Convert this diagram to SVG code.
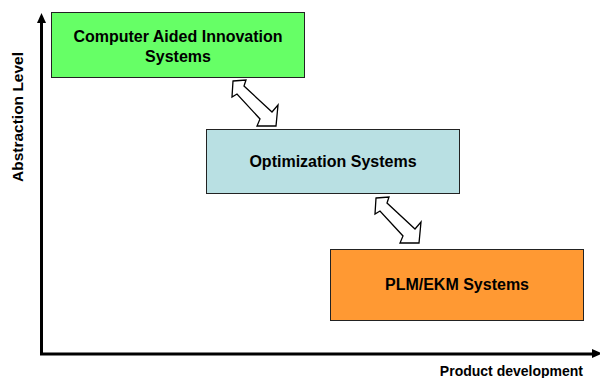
<svg xmlns="http://www.w3.org/2000/svg" width="600" height="378" viewBox="0 0 600 378">
<style>
.box{stroke:#222;stroke-width:1}
.lbl{font-family:"Liberation Sans",Arial,sans-serif;font-weight:bold;font-size:16px;fill:#000;text-anchor:middle}
.ax{font-family:"Liberation Sans",Arial,sans-serif;font-weight:bold;fill:#000}
.dbl{fill:#fff;stroke:#000;stroke-width:1.3;stroke-linejoin:miter}
.axis{stroke:#000;stroke-width:3;fill:none}
</style>
<defs>
<polygon id="dblArrow" points="233,81 246,80 244,86 272,112 278,105 276,126 257,126 260,119 237,94 232,97"/>
</defs>
<rect width="600" height="378" fill="#fff"/>
<g id="axes">
<path class="axis" d="M41.5,22 V354 H594"/>
<polygon points="41.5,13 37,23 46,23" fill="#000"/>
<polygon points="602,353.5 592,349 592,358" fill="#000"/>
<text class="ax" transform="translate(23,117) rotate(-90)" text-anchor="middle" font-size="15.5">Abstraction Level</text>
<text class="ax" x="583" y="376" text-anchor="end" font-size="14">Product development</text>
</g>
<g id="connectors">
<use href="#dblArrow" class="dbl"/>
<use href="#dblArrow" class="dbl" transform="translate(143,117)"/>
</g>
<g id="node-cai">
<rect class="box" x="51.5" y="12.5" width="253" height="65" fill="#66FF66"/>
<text class="lbl" x="178" y="42">Computer Aided Innovation</text>
<text class="lbl" x="178" y="62">Systems</text>
</g>
<g id="node-opt">
<rect class="box" x="206.5" y="129.5" width="253" height="64" fill="#B9E0E3"/>
<text class="lbl" x="333" y="167">Optimization Systems</text>
</g>
<g id="node-plm">
<rect class="box" x="330.5" y="249.5" width="253" height="71" fill="#FF9933"/>
<text class="lbl" x="457" y="290">PLM/EKM Systems</text>
</g>
</svg>
